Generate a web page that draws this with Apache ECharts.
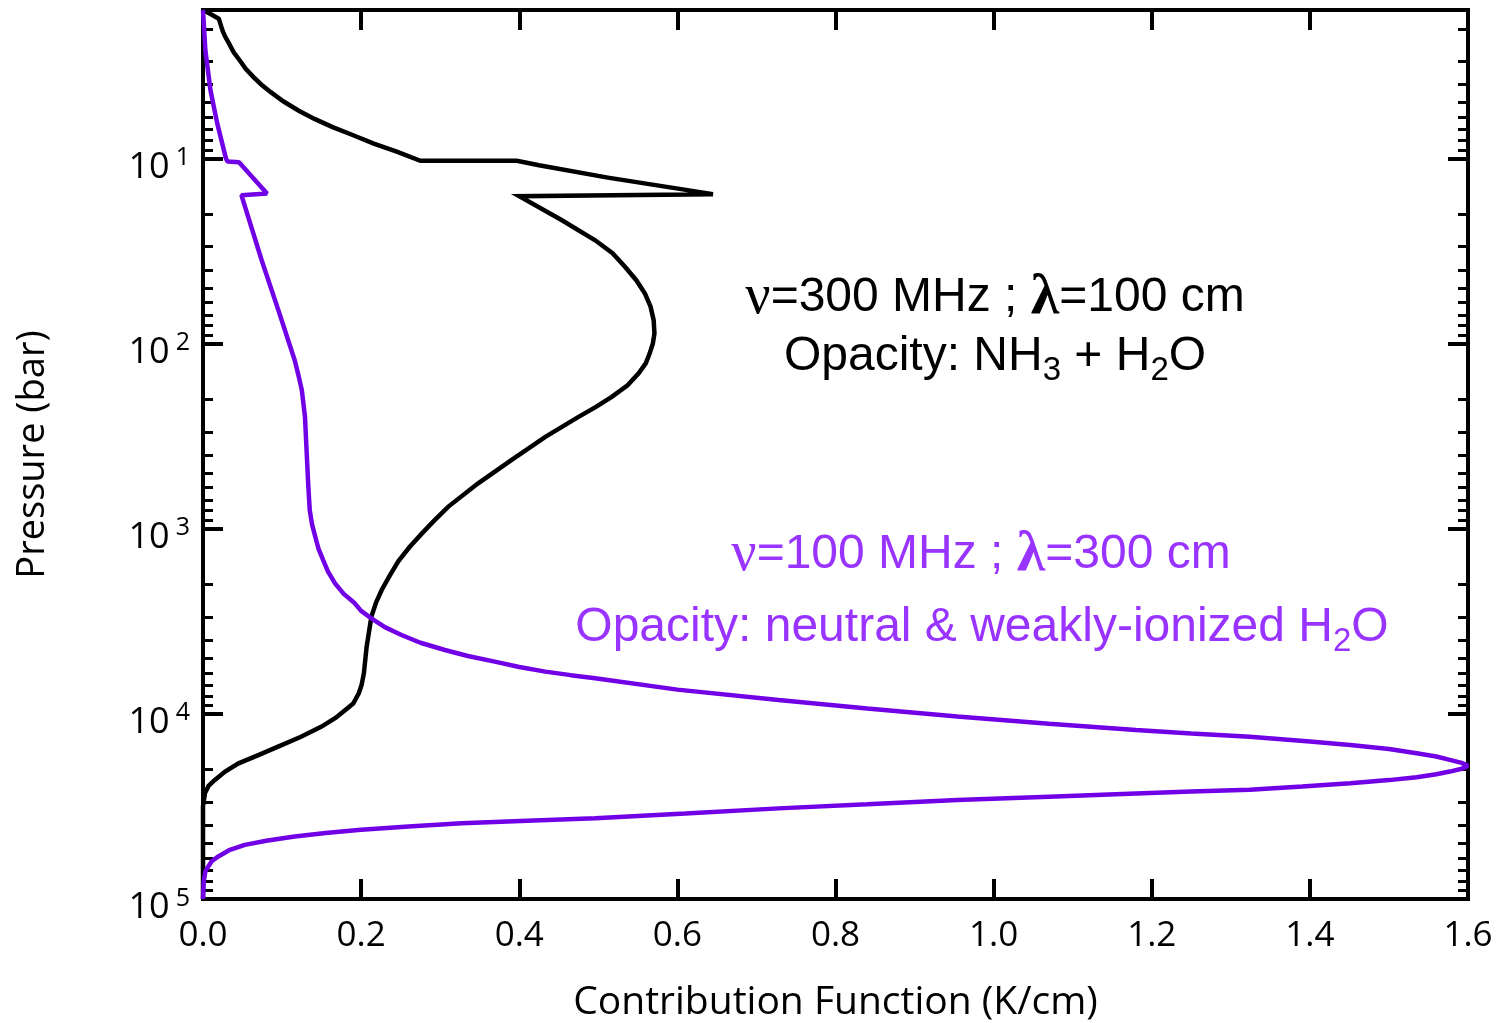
<!DOCTYPE html>
<html>
<head>
<meta charset="utf-8">
<script src="https://cdn.jsdelivr.net/npm/echarts@6/dist/echarts.min.js"></script>
<style>
html,body{margin:0;padding:0;background:#fff;}
#chart{width:1500px;height:1023px;}
</style>
</head>
<body>
<div id="chart"></div>
<script>
// ν=300 MHz curve: [contribution (K/cm), pressure (bar)]
const black300 = [
  [0.0, 1.58], [0.0095, 1.66], [0.020, 1.76], [0.0247, 2.04], [0.028, 2.2],
  [0.033, 2.40], [0.039, 2.68], [0.0466, 2.96], [0.054, 3.28], [0.0639, 3.64],
  [0.074, 4.0], [0.0857, 4.39], [0.102, 4.93], [0.1206, 5.51], [0.141, 6.12],
  [0.164, 6.78], [0.19, 7.5], [0.216, 8.33], [0.245, 9.2], [0.275, 10.3],
  [0.397, 10.3], [0.425, 10.9], [0.512, 12.7], [0.645, 15.6], [0.40, 16.0],
  [0.454, 21.6], [0.496, 27.7], [0.518, 32.5], [0.534, 38.6], [0.548, 45.5],
  [0.559, 53.7], [0.566, 63], [0.570, 74.8], [0.571, 88.2], [0.569, 100],
  [0.565, 113], [0.560, 128], [0.551, 145], [0.537, 168], [0.517, 194],
  [0.497, 220], [0.475, 249], [0.433, 319], [0.39, 426], [0.348, 569],
  [0.31, 762], [0.293, 900], [0.277, 1060], [0.261, 1260], [0.247, 1500],
  [0.236, 1800], [0.226, 2143], [0.219, 2500], [0.213, 2985], [0.207, 4335],
  [0.2035, 6035], [0.2005, 7000], [0.197, 7740], [0.19, 8800], [0.18, 9525],
  [0.168, 10500], [0.150, 11720], [0.124, 13300], [0.095, 15030], [0.07, 16700],
  [0.045, 18500], [0.028, 20500], [0.015, 22760], [0.007, 24500], [0.0025, 26800],
  [0.0, 31600], [0.0, 100000]
];
// ν=100 MHz curve
const purple100 = [
  [0.0, 1.58], [0.003, 2.61], [0.0095, 4.3], [0.018, 6.47], [0.029, 10.0],
  [0.031, 10.4], [0.0455, 10.5], [0.081, 15.5], [0.0486, 15.8], [0.0742, 35.5],
  [0.0953, 66], [0.116, 123], [0.121, 150], [0.125, 179], [0.129, 249],
  [0.131, 377], [0.133, 569], [0.135, 794], [0.138, 950], [0.142, 1106],
  [0.146, 1280], [0.152, 1480], [0.158, 1700], [0.167, 1973], [0.178, 2250],
  [0.192, 2530], [0.2, 2780], [0.213, 3050], [0.23, 3400], [0.251, 3750],
  [0.275, 4130], [0.306, 4520], [0.335, 4870], [0.369, 5225], [0.40, 5580],
  [0.433, 5915], [0.465, 6180], [0.496, 6425], [0.6, 7400], [0.728, 8410],
  [0.84, 9350], [0.954, 10350], [1.07, 11300], [1.18, 12230], [1.25, 12750],
  [1.324, 13280], [1.40, 14100], [1.451, 14720], [1.50, 15500], [1.535, 16330],
  [1.56, 17000], [1.577, 17740], [1.592, 18400], [1.60, 19100], [1.592, 19800],
  [1.577, 20500], [1.56, 21200], [1.535, 22000], [1.50, 22800], [1.451, 23700],
  [1.39, 24700], [1.324, 25700], [1.25, 26300], [1.18, 26900], [1.07, 28000],
  [0.954, 29200], [0.84, 30800], [0.728, 32400], [0.61, 34500], [0.496, 36600],
  [0.41, 37800], [0.327, 38950], [0.26, 40600], [0.2, 42300], [0.155, 44000],
  [0.116, 46000], [0.08, 48500], [0.053, 51000], [0.033, 54500], [0.0194, 58900],
  [0.011, 62500], [0.0067, 66700], [0.003, 71000], [0.001, 80000], [0.0, 100000]
];
const majorPressureTicks = [10, 100, 1000, 10000, 100000];
const minorPressureTicks = [2,3,4,5,6,7,8,9,20,30,40,50,60,70,80,90,200,300,400,500,600,700,800,900,
  2000,3000,4000,5000,6000,7000,8000,9000,20000,30000,40000,50000,60000,70000,80000,90000];
const xTitle = 'Contribution Function (K/cm)';
const yTitle = 'Pressure (bar)';
const annotBlack = ['{g|ν}=300 MHz ; {l|λ}=100 cm', 'Opacity: NH{sub|3} + H{sub|2}O'];
const annotPurple = ['{g|ν}=100 MHz ; {l|λ}=300 cm', 'Opacity: neutral & weakly-ionized H{sub|2}O'];

const PMIN = 1.58, PMAX = 100000;
const LINE_BLACK = '#000000', LINE_PURPLE = '#7200E6', TEXT_PURPLE = '#9933FF';
const TICK_FONT = 'Open Sans';

function yAxisDef(pos, minor) {
  return {
    type: 'log', logBase: 10, position: pos, inverse: true, min: PMIN, max: PMAX,
    splitLine: {show: false}, minorTick: {show: false},
    axisLine: {show: false},
    axisTick: {show: true, inside: true, length: minor ? 10 : 20,
      lineStyle: {color: '#000', width: minor ? 3 : 4},
      customValues: minor ? minorPressureTicks : majorPressureTicks},
    axisLabel: (pos === 'left' && !minor) ? {
      show: true, margin: 13, customValues: majorPressureTicks,
      formatter: v => '{b|10}{s|' + Math.round(Math.log10(v)) + '}',
      padding: [14, 0, 0, 0],
      rich: {
        b: {fontFamily: TICK_FONT, fontSize: 36, color: '#000', lineHeight: 40, verticalAlign: 'bottom'},
        s: {fontFamily: TICK_FONT, fontSize: 25, color: '#000', lineHeight: 14, verticalAlign: 'top', padding: [0,0,0,6]}
      }
    } : {show: false},
    name: (pos === 'left' && !minor) ? yTitle : '',
    nameLocation: 'middle', nameGap: 151,
    nameTextStyle: {fontFamily: TICK_FONT, fontSize: 38, color: '#000'}
  };
}

function annot(text, x, y, color) {
  return {
    type: 'text', x: x, y: y,
    style: {
      text: text, fill: color, align: 'center', verticalAlign: 'middle',
      fontFamily: 'Liberation Sans', fontSize: 48,
      rich: {
        g: {fontFamily: 'Liberation Serif', fontSize: 56, fill: color},
        l: {fontFamily: 'Liberation Serif', fontSize: 58, fontWeight: 'bold', fill: color},
        sub: {fontFamily: 'Liberation Sans', fontSize: 33, fill: color, lineHeight: 28, verticalAlign: 'bottom'}
      },
      lineHeight: 60
    }
  };
}

const chart = echarts.init(document.getElementById('chart'), null, {renderer: 'canvas'});
chart.setOption({
  animation: false,
  backgroundColor: '#fff',
  grid: {left: 203, right: 32, top: 10, bottom: 124, containLabel: false, outerBoundsMode: 'none',
    show: true, borderColor: '#000', borderWidth: 4, backgroundColor: 'transparent'},
  xAxis: [
    {type: 'value', position: 'bottom', min: 0, max: 1.6, interval: 0.2,
     splitLine: {show: false}, axisLine: {show: false},
     axisTick: {inside: true, length: 20, lineStyle: {color: '#000', width: 4}},
     axisLabel: {fontFamily: TICK_FONT, fontSize: 35, color: '#000', margin: 20, formatter: v => v.toFixed(1)},
     name: xTitle, nameLocation: 'middle', nameGap: 84,
     nameTextStyle: {fontFamily: TICK_FONT, fontSize: 39, color: '#000'}},
    {type: 'value', position: 'top', min: 0, max: 1.6, interval: 0.2,
     splitLine: {show: false}, axisLine: {show: false},
     axisTick: {inside: true, length: 20, lineStyle: {color: '#000', width: 4}},
     axisLabel: {show: false}}
  ],
  yAxis: [yAxisDef('left', false), yAxisDef('left', true), yAxisDef('right', false), yAxisDef('right', true)],
  series: [
    {type: 'line', name: '300 MHz', data: black300, xAxisIndex: 0, yAxisIndex: 0,
     showSymbol: false, symbol: 'none', lineStyle: {color: LINE_BLACK, width: 4.5, join: 'miter'}, z: 3},
    {type: 'line', name: '100 MHz', data: purple100, xAxisIndex: 0, yAxisIndex: 0,
     showSymbol: false, symbol: 'none', lineStyle: {color: LINE_PURPLE, width: 4.5}, z: 4}
  ],
  graphic: [
    annot(annotBlack[0], 995, 298, '#000'),
    annot(annotBlack[1], 995, 357, '#000'),
    annot(annotPurple[0], 981, 555, TEXT_PURPLE),
    annot(annotPurple[1], 982, 628, TEXT_PURPLE)
  ]
});
</script>
</body>
</html>
